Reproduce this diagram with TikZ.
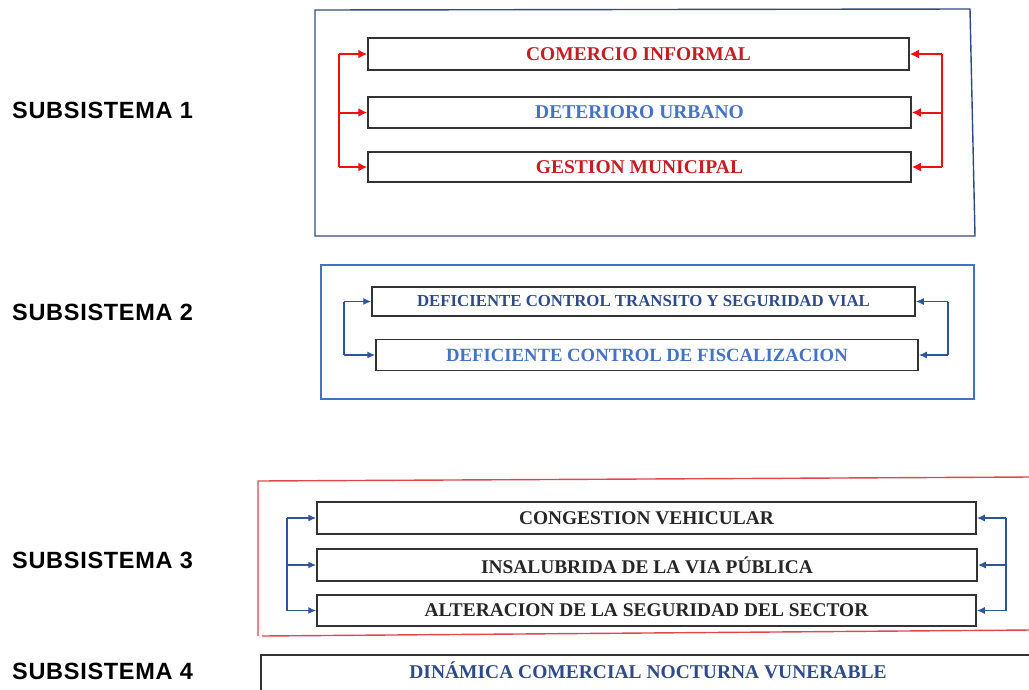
\documentclass[tikz,border=0pt]{standalone}
\usepackage{fontspec}
\setmainfont{Liberation Serif}
\newfontfamily\labfont[LetterSpace=3]{Liberation Sans}
\usetikzlibrary{arrows.meta}
\definecolor{sred}{HTML}{C41E24}
\definecolor{sblue}{HTML}{4472C4}
\definecolor{snavy}{HTML}{2E4A8A}
\definecolor{onavy}{HTML}{2F4A80}
\definecolor{ored}{HTML}{E0474C}
\definecolor{ared}{HTML}{F01010}
\definecolor{ablue}{HTML}{2F5597}
\definecolor{tdark}{HTML}{262626}
\tikzset{
  x=1pt,y=-1pt,
  vbox/.style={draw=black!80,line width=1.5pt,fill=white,inner sep=0pt,anchor=center,font=\bfseries},
  lab/.style={anchor=west,font=\labfont\bfseries\fontsize{23.5}{26}\selectfont,inner sep=0pt},
  redarr/.style={draw=ared,line width=2pt,-{Latex[length=9pt,width=9pt]}},
  redline/.style={draw=ared,line width=2pt},
  bluearr/.style={draw=ablue,line width=1.4pt,-{Latex[length=8pt,width=7pt]}},
  blueline/.style={draw=ablue,line width=1.4pt},
}
\newcommand{\fs}[1]{\fontsize{#1}{#1}\selectfont}
\begin{document}
\begin{tikzpicture}
\useasboundingbox (0,0) rectangle (1029,689);
% labels
\node[lab] (l1) at (12,110) {SUBSISTEMA 1};
\node[lab] (l2) at (12,312) {SUBSISTEMA 2};
\node[lab] (l3) at (12,560) {SUBSISTEMA 3};
\node[lab] (l4) at (12,671) {SUBSISTEMA 4};
% outer frames
\draw[onavy,line width=1.4pt] (315,10) -- (970,9) -- (975,236) -- (315,236) -- cycle;
\draw[sblue,line width=1.2pt] (321,265) rectangle (974,399);
\draw[ored,line width=1.4pt] (1031,477) -- (258,481) -- (258,636);
\draw[ored,line width=1.4pt] (262,636) -- (1031,630);
% subsystem 1
\node[vbox,minimum width=541pt,minimum height=32pt,text=sred] (ci) at (638.5,54) {\fs{19.5}COMERCIO INFORMAL};
\node[vbox,minimum width=543pt,minimum height=31pt,text=sblue] (du) at (639.5,112.5) {\fs{19.5}DETERIORO URBANO};
\node[vbox,minimum width=543pt,minimum height=30pt,text=sred] (gm) at (639.5,167) {\fs{19.5}GESTION MUNICIPAL};
\coordinate (L1) at (339,0);
\coordinate (R1) at (942,0);
\draw[redline] (ci.west -| L1) -- (gm.west -| L1);
\draw[redline] (ci.east -| R1) -- (gm.east -| R1);
\draw[redarr] (ci.west -| L1) -- (ci.west);
\draw[redarr] (du.west -| L1) -- (du.west);
\draw[redarr] (gm.west -| L1) -- (gm.west);
\draw[redarr] (ci.east -| R1) -- (ci.east);
\draw[redarr] (du.east -| R1) -- (du.east);
\draw[redarr] (gm.east -| R1) -- (gm.east);
% subsystem 2
\node[vbox,minimum width=543pt,minimum height=29pt,text=snavy] (dct) at (643.5,301.5) {\fs{16.8}DEFICIENTE CONTROL TRANSITO Y SEGURIDAD VIAL};
\node[vbox,minimum width=542pt,minimum height=31pt,text=sblue] (dcf) at (647,355) {\fs{18.7}DEFICIENTE CONTROL DE FISCALIZACION};
\coordinate (L2) at (344,0);
\coordinate (R2) at (948,0);
\draw[blueline] (dct.west -| L2) -- (dcf.west -| L2);
\draw[blueline] (dct.east -| R2) -- (dcf.east -| R2);
\draw[bluearr] (dct.west -| L2) -- (dct.west);
\draw[bluearr] (dcf.west -| L2) -- (dcf.west);
\draw[bluearr] (dct.east -| R2) -- (dct.east);
\draw[bluearr] (dcf.east -| R2) -- (dcf.east);
% subsystem 3
\node[vbox,minimum width=659pt,minimum height=32pt,text=tdark] (cv) at (646.5,518) {\fs{19.4}CONGESTION VEHICULAR};
\node[vbox,minimum width=660pt,minimum height=32pt,text=tdark] (ivp) at (647,565) {\fs{19.4}INSALUBRIDA DE LA VIA PÚBLICA};
\node[vbox,minimum width=659pt,minimum height=31pt,text=tdark] (ass) at (646.5,610.5) {\fs{19.4}ALTERACION DE LA SEGURIDAD DEL SECTOR};
\coordinate (L3) at (287,0);
\coordinate (R3) at (1006,0);
\draw[blueline] (cv.west -| L3) -- (ass.west -| L3);
\draw[blueline] (cv.east -| R3) -- (ass.east -| R3);
\draw[bluearr] (cv.west -| L3) -- (cv.west);
\draw[bluearr] (ivp.west -| L3) -- (ivp.west);
\draw[bluearr] (ass.west -| L3) -- (ass.west);
\draw[bluearr] (cv.east -| R3) -- (cv.east);
\draw[bluearr] (ivp.east -| R3) -- (ivp.east);
\draw[bluearr] (ass.east -| R3) -- (ass.east);
% subsystem 4
\node[vbox,minimum width=774pt,minimum height=38pt,text=snavy] (dcn) at (648,674) {\raisebox{7pt}{\fs{19.5}DINÁMICA COMERCIAL NOCTURNA VUNERABLE}};
\end{tikzpicture}
\end{document}
